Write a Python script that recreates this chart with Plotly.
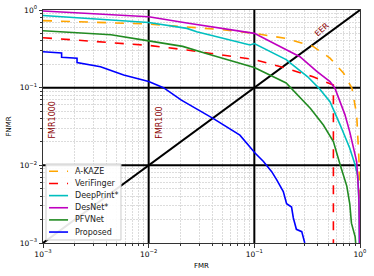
import plotly.graph_objects as go

# ---- data (FMR, FNMR) ----
akaze_fmr = [0.001, 0.01, 0.048, 0.1, 0.2, 0.36, 0.52, 0.7, 0.84, 0.93, 0.98, 0.995, 0.999]
akaze_fnmr = [0.73, 0.66, 0.56, 0.50, 0.43, 0.34, 0.24, 0.153, 0.098, 0.045, 0.011, 0.003, 0.001]

veri_fmr = [0.001, 0.01, 0.023, 0.1, 0.2, 0.36, 0.56, 0.56]
veri_fnmr = [0.44, 0.35, 0.305, 0.23, 0.178, 0.138, 0.108, 0.001]

deep_fmr = [0.001, 0.01, 0.023, 0.0285, 0.091, 0.1, 0.2, 0.32, 0.41, 0.52, 0.65, 0.80, 0.90, 0.955, 0.98, 0.985]
deep_fnmr = [0.85, 0.69, 0.58, 0.525, 0.355, 0.37, 0.23, 0.138, 0.098, 0.066, 0.033, 0.0166, 0.0101, 0.0071, 0.003, 0.001]

des_fmr = [0.001, 0.01, 0.023, 0.1, 0.164, 0.27, 0.39, 0.52, 0.58, 0.72, 0.80, 0.93, 0.975, 0.99]
des_fnmr = [0.97, 0.82, 0.68, 0.50, 0.355, 0.25, 0.162, 0.12, 0.098, 0.045, 0.027, 0.0112, 0.004, 0.001]

pfv_fmr = [0.001, 0.0044, 0.01, 0.021, 0.035, 0.1, 0.2, 0.34, 0.45, 0.56, 0.65, 0.75, 0.80, 0.83, 0.90, 0.91]
pfv_fnmr = [0.54, 0.48, 0.40, 0.34, 0.275, 0.182, 0.115, 0.054, 0.033, 0.0202, 0.0101, 0.0054, 0.0032, 0.0018, 0.0012, 0.001]

prop_fmr = [0.001, 0.0015, 0.0015, 0.0021, 0.0021, 0.0035, 0.0044, 0.0058, 0.01, 0.0138, 0.0204, 0.041, 0.073, 0.102, 0.122, 0.139, 0.146, 0.163, 0.188, 0.202, 0.225, 0.234, 0.25, 0.281, 0.30]
prop_fnmr = [0.29, 0.28, 0.246, 0.24, 0.21, 0.186, 0.166, 0.146, 0.12, 0.10, 0.069, 0.040, 0.0245, 0.0143, 0.0112, 0.0091, 0.0083, 0.0065, 0.0046, 0.0032, 0.0029, 0.0021, 0.0015, 0.0014, 0.001]

series = [
    ("A-KAZE", akaze_fmr, akaze_fnmr, "#FFA500", "dash"),
    ("VeriFinger", veri_fmr, veri_fnmr, "#FF0000", "dash"),
    ("DeepPrint*", deep_fmr, deep_fnmr, "#00BFBF", "solid"),
    ("DesNet*", des_fmr, des_fnmr, "#BF00BF", "solid"),
    ("PFVNet", pfv_fmr, pfv_fnmr, "#228B22", "solid"),
    ("Proposed", prop_fmr, prop_fnmr, "#0000FF", "solid"),
]

ref_levels = [0.01, 0.1]
eer_line = [0.001, 1.0]
decades = [-3, -2, -1, 0]
tick_labels = ["10<sup>−3</sup>", "10<sup>−2</sup>", "10<sup>−1</sup>", "10<sup>0</sup>"]

FONT = "DejaVu Sans"

fig = go.Figure()

# reference lines
for v in ref_levels:
    fig.add_trace(go.Scatter(x=[v, v], y=[0.001, 1], mode="lines",
                             line=dict(color="black", width=2), showlegend=False, hoverinfo="skip"))
    fig.add_trace(go.Scatter(x=[0.001, 1], y=[v, v], mode="lines",
                             line=dict(color="black", width=2), showlegend=False, hoverinfo="skip"))
fig.add_trace(go.Scatter(x=eer_line, y=eer_line, mode="lines",
                         line=dict(color="black", width=2), showlegend=False, hoverinfo="skip"))

for name, xs, ys, col, dash in series:
    fig.add_trace(go.Scatter(x=xs, y=ys, mode="lines", name=name, showlegend=False,
                             line=dict(color=col, width=1.6, dash=dash)))

ann_color = "#8B0000"
fig.add_annotation(x=-2.91, y=-1.68, text="FMR1000", showarrow=False, textangle=-90,
                   yanchor="bottom", font=dict(color=ann_color, size=8, family=FONT))
fig.add_annotation(x=-1.90, y=-1.68, text="FMR100", showarrow=False, textangle=-90,
                   yanchor="bottom", font=dict(color=ann_color, size=8, family=FONT))
fig.add_annotation(x=-0.36, y=-0.25, text="EER", showarrow=False, textangle=-42,
                   font=dict(color=ann_color, size=8, family=FONT))

# compact legend box (paper coordinates)
lx0, lx1, ly0, ly1 = 0.0095, 0.246, 0.013, 0.339
fig.add_shape(type="rect", xref="paper", yref="paper", x0=lx0, x1=lx1, y0=ly0, y1=ly1,
              fillcolor="rgba(255,255,255,0.9)", line=dict(color="#cccccc", width=1), layer="above")
y_first, y_last = 0.3077, 0.047
n = len(series)
for i, (name, xs, ys, col, dash) in enumerate(series):
    yy = y_first - (y_first - y_last) * i / (n - 1)
    fig.add_shape(type="line", xref="paper", yref="paper", x0=0.019, x1=0.079,
                  y0=yy, y1=yy, line=dict(color=col, width=1.6, dash=dash), layer="above")
    fig.add_annotation(xref="paper", yref="paper", x=0.094, y=yy, text=name,
                       showarrow=False, xanchor="left", yanchor="middle",
                       font=dict(size=8, family=FONT, color="#222"))

major_vals = [10.0 ** d for d in decades]
minor_vals = [m * 10.0 ** d for d in decades[:-1] for m in range(2, 10)]

axis_common = dict(type="log", range=[-3, 0], tickmode="array", tickvals=major_vals, ticktext=tick_labels,
                   showline=True, linecolor="#333", linewidth=1, mirror=True,
                   ticks="outside", ticklen=3.5, tickcolor="#333",
                   showgrid=True, gridcolor="#d4d4d4", gridwidth=0.8, griddash="2px,1px",
                   minor=dict(tickmode="array", tickvals=minor_vals, showgrid=True,
                              gridcolor="#dcdcdc", gridwidth=0.8, griddash="2px,1px",
                              ticks="outside", ticklen=2, tickcolor="#333"),
                   zeroline=False, automargin=False, ticklabeloverflow="allow",
                   tickfont=dict(size=7.5, family=FONT, color="black"))

fig.update_xaxes(**axis_common, title=dict(text="FMR", font=dict(size=7, family=FONT), standoff=5))
fig.update_yaxes(**axis_common, title=dict(text="FNMR", font=dict(size=7, family=FONT), standoff=7))

fig.update_layout(
    width=374, height=276,
    margin=dict(l=43, r=14, t=10, b=33, autoexpand=False),
    plot_bgcolor="white", paper_bgcolor="white",
    font=dict(family=FONT, size=7.5, color="black"),
    showlegend=False,
)

# remove the browser's default 8px body margin so the figure fills the window exactly
fig.write_html("out.html", config={"displayModeBar": False},
               post_script="document.body.style.margin='0';document.body.style.overflow='hidden';")
